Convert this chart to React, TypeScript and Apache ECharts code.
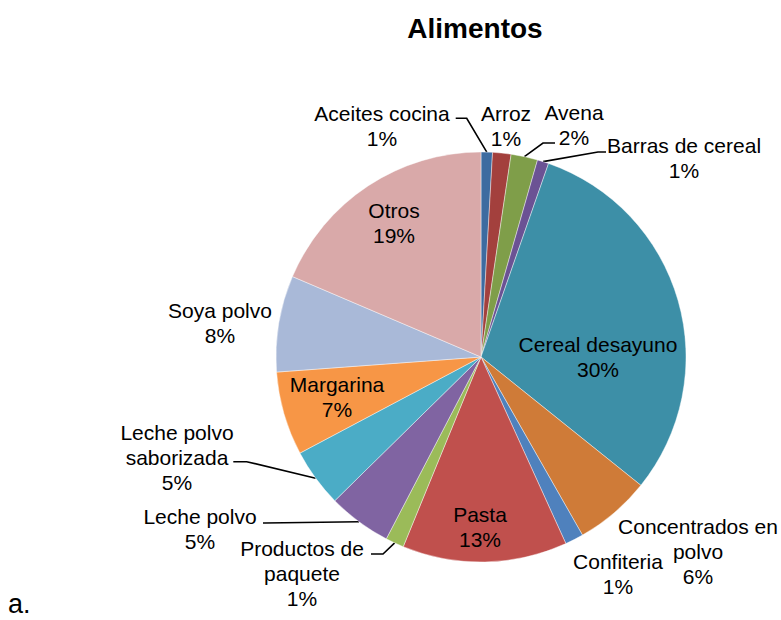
import { useEffect, useRef } from "react";
import * as echarts from "echarts";

// ---------- data ----------
const categories = [
  "Aceites cocina",
  "Arroz",
  "Avena",
  "Barras de cereal",
  "Cereal desayuno",
  "Concentrados en\npolvo",
  "Confiteria",
  "Pasta",
  "Productos de\npaquete",
  "Leche polvo",
  "Leche polvo\nsaborizada",
  "Margarina",
  "Soya polvo",
  "Otros",
];
const values = [0.9, 1.45, 2.1, 0.9, 30.45, 6.0, 1.45, 13.0, 1.45, 5.0, 4.6, 6.6, 7.6, 18.6];
const sliceColors = [
  "#3D6BA0",
  "#A3403D",
  "#7F9E49",
  "#6B5294",
  "#3D8FA7",
  "#CF7B38",
  "#4F81BD",
  "#C0504D",
  "#9BBB59",
  "#8064A2",
  "#4BACC6",
  "#F79646",
  "#A9B9D8",
  "#D9A9A9",
];
const titleText = "Alimentos";
const panelText = "a.";

// ---------- layout ----------
const CX = 481;
const CY = 357;
const R = 205;
const FONT = "'Liberation Sans', Arial, Helvetica, sans-serif";

// label block centres
const LABEL_POS: number[][] = [
  [382, 125.5],
  [506, 125.5],
  [574, 125],
  [684, 158],
  [598, 357],
  [698, 551],
  [618, 574],
  [480, 527],
  [302, 573],
  [200, 529],
  [177, 457],
  [337, 397],
  [220, 322.5],
  [394, 222.5],
];
// leader line bends (after the anchor on the slice edge)
const LEADERS: Record<number, number[][]> = {
  0: [[466.7, 118.3], [455.7, 118.3]],
  2: [[543, 143], [555, 143]],
  3: [[598, 152], [606, 152]],
  8: [[383, 554], [371, 554]],
  9: [[265, 523], [263, 523]],
  10: [[246.7, 461.7], [233.3, 461.7]],
};

function anchorOf(i: number): number[] {
  const total = values.reduce((a, b) => a + b, 0);
  let before = 0;
  for (let k = 0; k < i; k++) before += values[k];
  const f = (before + values[i] / 2) / total;
  const t = f * Math.PI * 2;
  return [CX + R * Math.sin(t), CY - R * Math.cos(t)];
}

export default function App() {
  const ref = useRef<HTMLDivElement>(null);
  useEffect(() => {
    if (!ref.current) return;
    const chart = echarts.init(ref.current, null, { renderer: "svg" });
    const data = categories.map((name, i) => ({
      name,
      value: values[i],
      itemStyle: { color: sliceColors[i] },
      labelLine: { show: !!LEADERS[i] },
    }));
    chart.setOption({
      animation: false,
      backgroundColor: "#ffffff",
      graphic: [
        {
          type: "text",
          x: 475,
          y: 28.5,
          style: {
            text: titleText,
            font: `bold 28px ${FONT}`,
            fill: "#000",
            textAlign: "center",
            textVerticalAlign: "middle",
          },
        },
        {
          type: "text",
          x: 8,
          y: 617,
          style: {
            text: panelText,
            font: `27px ${FONT}`,
            fill: "#000",
            textAlign: "left",
            textVerticalAlign: "bottom",
          },
        },
      ],
      series: [
        {
          type: "pie",
          center: [CX, CY],
          radius: R,
          startAngle: 90,
          clockwise: true,
          avoidLabelOverlap: false,
          itemStyle: { borderColor: "rgba(255,255,255,0.7)", borderWidth: 0.6 },
          label: {
            show: true,
            position: "outside",
            formatter: (p: any) => `${p.name}\n${Math.round(p.percent)}%`,
            fontFamily: FONT,
            fontSize: 21,
            lineHeight: 25,
            color: "#000",
            align: "center",
          },
          labelLine: {
            show: true,
            length: 10,
            length2: 10,
            smooth: false,
            lineStyle: { color: "#000", width: 1.6 },
          },
          labelLayout: (params: any) => {
            const i = params.dataIndex;
            const [x, y] = LABEL_POS[i];
            const res: any = { x, y, align: "center", verticalAlign: "middle" };
            if (LEADERS[i]) res.labelLinePoints = [anchorOf(i), ...LEADERS[i]];
            return res;
          },
          emphasis: { disabled: true },
          data,
        },
      ],
    });
    return () => chart.dispose();
  }, []);
  return (
    <div
      ref={ref}
      style={{ position: "fixed", left: 0, top: 0, width: 781, height: 620, background: "#fff" }}
    />
  );
}
